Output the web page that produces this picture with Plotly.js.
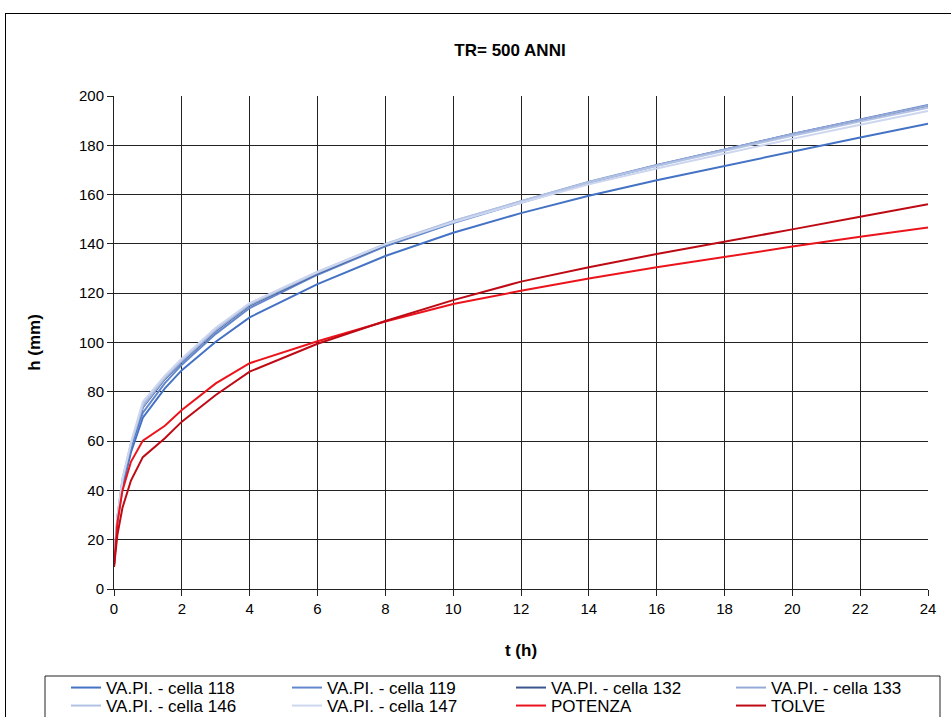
<!DOCTYPE html>
<html>
<head>
<meta charset="utf-8">
<script src="https://cdn.plot.ly/plotly-3.0.1.min.js"></script>
<style>
  html, body { margin: 0; padding: 0; background: #fff; overflow: hidden; }
  #chart { position: absolute; left: 0; top: 0; width: 951px; height: 717px; }
  #frame { position: absolute; left: 5px; top: 13px; width: 950px; height: 720px;
           border: 1.5px solid #000; pointer-events: none; box-sizing: border-box; }
</style>
</head>
<body>
<div id="chart"></div>
<div id="frame"></div>
<script>
// Durations (h)
const tHours = [0, 0.1, 0.25, 0.5, 0.85, 1.5, 2, 3, 4, 6, 8, 10, 12, 14, 16, 18, 20, 22, 24];

// Rainfall depth h (mm)
const cella118 = [10, 27, 41, 55.5, 69.5, 81.4, 88.8, 100.3, 110.2, 123.7, 135.1, 144.5, 152.5, 159.5, 165.8, 171.7, 177.4, 183.2, 188.8];
const cella119 = [10, 28, 43, 57.5, 71.5, 83.5, 91, 103.5, 114, 127.5, 139, 148.5, 156.7, 164.8, 171.8, 178.2, 184.6, 190.5, 196.4];
const cella132 = [10, 29, 44, 58.3, 73.7, 85.2, 92.2, 104.7, 115, 128, 139.6, 149, 157.1, 165, 171.9, 178.2, 184.5, 190.3, 196.1];
const cella133 = [10, 29, 44, 58.5, 74, 85.5, 92.5, 105, 115.3, 128.3, 139.8, 149.2, 157.3, 165.2, 172, 178.3, 184.6, 190.4, 196.2];
const cella146 = [10, 29, 44.5, 59, 75, 86, 93, 105.5, 115.8, 128.6, 140, 149.3, 157.3, 165, 171.6, 177.8, 183.9, 189.6, 195.2];
const cella147 = [10, 29.5, 45, 59.5, 76, 86.5, 93.5, 106, 116, 128.7, 139.8, 148.8, 156.7, 164.2, 170.6, 176.7, 182.6, 188.3, 193.9];
const potenza  = [9, 27, 40, 51.6, 60.2, 66.2, 72.6, 83.4, 91.6, 100.5, 108.5, 115.6, 121.0, 126.0, 130.5, 134.8, 138.9, 142.9, 146.7];
const tolve    = [9, 22, 33, 44, 53.5, 61.2, 67.9, 78.7, 88.2, 99.5, 108.7, 117.2, 124.7, 130.5, 135.9, 140.8, 145.9, 151.0, 156.1];

const seriesNames = ["VA.PI. - cella 118", "VA.PI. - cella 119", "VA.PI. - cella 132", "VA.PI. - cella 133",
                     "VA.PI. - cella 146", "VA.PI. - cella 147", "POTENZA", "TOLVE"];
const seriesValues = [cella118, cella119, cella132, cella133, cella146, cella147, potenza, tolve];
const seriesColors = ["rgb(68,114,196)", "rgb(98,135,205)", "rgb(58,86,140)", "rgb(150,170,218)",
                      "rgb(178,194,228)", "rgb(204,214,238)", "rgb(235,20,28)", "rgb(190,10,20)"];

const xTicks = [0, 2, 4, 6, 8, 10, 12, 14, 16, 18, 20, 22, 24];
const yTicks = [0, 20, 40, 60, 80, 100, 120, 140, 160, 180, 200];

// Page geometry (px) of the plot area, used to place legend items and the legend box
const W = 951, H = 717;
const plotL = 114, plotR = 928, plotT = 96, plotB = 589;
const plotW = plotR - plotL, plotH = plotB - plotT;
const px2x = p => (p - plotL) / plotW;
const px2y = p => (plotB - p) / plotH;

const legendColPx = [66, 287, 511, 731];
const legendRowPx = [688, 706];

const legendKey = i => (i === 0 ? "legend" : "legend" + (i + 1));

const traces = seriesNames.map((name, i) => ({
  type: "scatter",
  mode: "lines",
  name: name,
  x: tHours,
  y: seriesValues[i],
  line: { color: seriesColors[i], width: 2 },
  legend: legendKey(i)
}));

const font = "Liberation Sans, Arial, sans-serif";

const layout = {
  width: W,
  height: H,
  paper_bgcolor: "#fff",
  plot_bgcolor: "#fff",
  margin: { l: plotL, r: W - plotR, t: plotT, b: H - plotB, autoexpand: false },
  font: { family: font, size: 15, color: "#000" },
  title: {
    text: "<b>TR= 500 ANNI</b>",
    font: { family: font, size: 17, color: "#000" },
    x: 510 / W, xanchor: "center", xref: "container",
    y: 1 - 50 / H, yref: "container", yanchor: "middle"
  },
  xaxis: {
    range: [0, 24],
    tickvals: xTicks,
    ticktext: xTicks.map(String),
    showgrid: true, gridcolor: "#222", gridwidth: 1,
    showline: true, linecolor: "#222", linewidth: 1,
    ticks: "outside", ticklen: 6, tickcolor: "#222",
    zeroline: false, automargin: false,
    tickfont: { family: font, size: 15, color: "#000" },
    title: { text: "<b>t (h)</b>", font: { family: font, size: 17, color: "#000" }, standoff: 28 }
  },
  yaxis: {
    range: [0, 200],
    tickvals: yTicks,
    ticktext: yTicks.map(String),
    showgrid: true, gridcolor: "#222", gridwidth: 1,
    showline: true, linecolor: "#222", linewidth: 1,
    ticks: "outside", ticklen: 6, tickcolor: "#222",
    zeroline: false, automargin: false,
    tickfont: { family: font, size: 15, color: "#000" },
    title: { text: "<b>h (mm)</b>", font: { family: font, size: 17, color: "#000" }, standoff: 34 }
  },
  showlegend: true,
  shapes: [{
    type: "rect", xref: "paper", yref: "paper",
    x0: px2x(45), x1: px2x(940), y0: px2y(676), y1: px2y(740),
    line: { color: "#222", width: 1 }, fillcolor: "rgba(0,0,0,0)", layer: "above"
  }]
};

seriesNames.forEach((name, i) => {
  layout[legendKey(i)] = {
    x: px2x(legendColPx[i % 4]), xanchor: "left",
    y: px2y(legendRowPx[Math.floor(i / 4)]), yanchor: "middle",
    borderwidth: 0, bgcolor: "rgba(0,0,0,0)",
    font: { family: font, size: 17, color: "#000" }
  };
});

Plotly.newPlot("chart", traces, layout, { displayModeBar: false, staticPlot: true });
</script>
</body>
</html>
